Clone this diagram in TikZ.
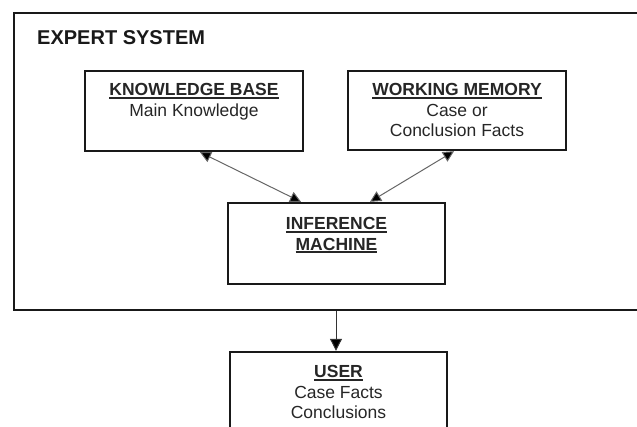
\documentclass[tikz,border=0pt]{standalone}
\usepackage{fontspec}
\setmainfont{Liberation Sans}
\usetikzlibrary{arrows.meta}
\newcommand\myul[1]{\setbox0=\hbox{#1}\leavevmode\rlap{\rule[-2.6pt]{\wd0}{1.6pt}}\box0}
\tikzset{
  boxnode/.style={draw=black!90, line width=2.4pt, rectangle, inner sep=0pt},
  txt/.style={anchor=north, inner sep=0pt, align=center, text=black!85,
              font=\fontsize{17.5}{20.5}\selectfont},
  link/.style={draw=black!60, line width=1pt,
               {Triangle[length=11pt,width=11pt,fill=black]}-{Triangle[length=11pt,width=11pt,fill=black]}},
  down/.style={draw=black!80, line width=1pt, -{Triangle[length=12pt,width=12pt,fill=black]}}
}
\begin{document}
\begin{tikzpicture}[x=1pt,y=-1pt]
\useasboundingbox (0,0) rectangle (637,426);
\clip (0,0) rectangle (637,426);
% outer expert system frame
\node[boxnode, minimum width=646pt, minimum height=297pt] (es) at (337,161.5) {};
\node[anchor=base west, inner sep=0pt, text=black!90, font=\fontsize{20}{24}\selectfont\bfseries] (estitle) at (37,44) {EXPERT SYSTEM};
% knowledge base
\node[boxnode, minimum width=218pt, minimum height=80pt] (kb) at (194,111) {};
\node[txt] (kbt) at (194,83.5) {\textbf{\myul{KNOWLEDGE BASE}}\\Main Knowledge};
% working memory
\node[boxnode, minimum width=218pt, minimum height=79pt] (wm) at (457,110.5) {};
\node[txt] (wmt) at (457,83.5) {\textbf{\myul{WORKING MEMORY}}\\Case or\\Conclusion Facts};
% inference machine
\node[boxnode, minimum width=217pt, minimum height=81pt] (inf) at (336.5,243.5) {};
\node[txt] (inft) at (336.5,217.5) {\textbf{\myul{INFERENCE}}\\\textbf{\myul{MACHINE}}};
% user
\node[boxnode, minimum width=217pt, minimum height=100pt] (user) at (338.5,402) {};
\node[txt] (usert) at (338.5,365.5) {\textbf{\myul{USER}}\\Case Facts\\Conclusions};
% connectors
\draw[link] ([xshift=6pt]kb.south) -- ([xshift=-35.5pt]inf.north);
\draw[link] ([xshift=-3pt]wm.south) -- ([xshift=33.5pt]inf.north);
\draw[down] (es.south -| 336,0) -- (user.north -| 336,0);
\end{tikzpicture}
\end{document}
